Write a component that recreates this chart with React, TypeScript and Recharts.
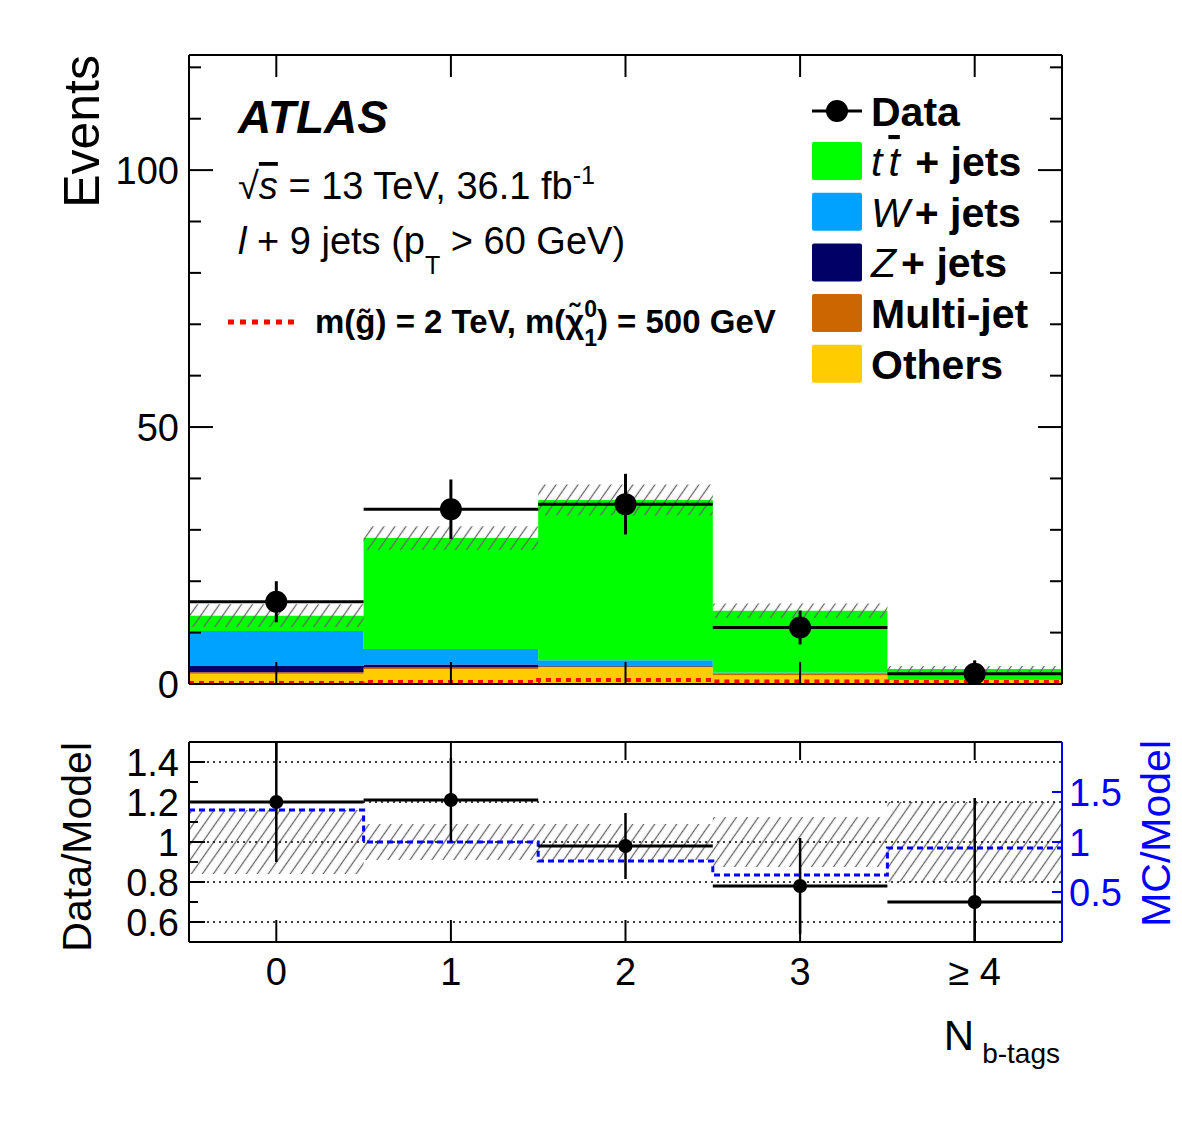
import React from 'react';
import { ComposedChart, Area, Line, Scatter, ErrorBar, XAxis, YAxis, ReferenceLine } from 'recharts';

const FONT = '"Liberation Sans", Arial, Helvetica, sans-serif';

// b-tag multiplicity bins
const bins = [0, 1, 2, 3, 4];
const binLabels = ['0', '1', '2', '3', '≥ 4'];

// background composition, events per bin
const others = [2.0, 2.9, 3.3, 1.7, 0.8];
const multiJet = [0.3, 0.3, 0.1, 0.3, 0.05];
const zJets = [1.2, 0.6, 0.2, 0.05, 0.02];
const wJets = [6.8, 3.0, 1.0, 0.2, 0.05];
const ttJets = [3.0, 21.6, 31.2, 12.0, 2.0];
const modelUnc = [2.2, 2.3, 3.0, 1.4, 0.6];

// signal benchmark m(gluino) = 2 TeV, m(neutralino) = 500 GeV
const signal = [0.2, 0.4, 0.8, 0.5, 0.4];

// observed events
const dataCounts = [16, 34, 35, 11, 2];
const dataErrLow = [4.0, 5.8, 5.9, 3.3, 1.4];
const dataErrHigh = [4.0, 5.8, 5.9, 3.3, 2.6];

// ratio panel (last bin's lower error runs out of the frame)
const dataRatio = [1.2, 1.21, 0.98, 0.78, 0.7];
const ratioErrLow = [0.3, 0.21, 0.165, 0.24, 0.2];
const ratioErrHigh = [0.3, 0.21, 0.165, 0.24, 0.52];
const relModelUnc = [0.16, 0.09, 0.09, 0.125, 0.2];
const mcOverModel = [1.32, 1.0, 0.81, 0.67, 0.94];

const eventTicks = [0, 10, 20, 30, 40, 50, 60, 70, 80, 90, 100, 110, 120];
const ratioTicks = [0.5, 0.6, 0.7, 0.8, 0.9, 1, 1.1, 1.2, 1.3, 1.4, 1.5];
const ratioGrid = [0.6, 0.8, 1, 1.2, 1.4];
const mcTicks = [0.5, 1, 1.5];

const COLORS = {
  tt: '#00ff00',
  w: '#00a2ff',
  z: '#000066',
  multi: '#cc6600',
  others: '#ffcc00',
};

// step histograms need a point on every bin edge; the last edge repeats the last bin
const edgeIndex = [0, 1, 2, 3, 4, 5];
const stackRows = edgeIndex.map((i) => {
  const b = Math.min(i, bins.length - 1);
  const total = others[b] + multiJet[b] + zJets[b] + wJets[b] + ttJets[b];
  return {
    x: i - 0.5,
    others: others[b],
    multi: multiJet[b],
    z: zJets[b],
    w: wJets[b],
    tt: ttJets[b],
    band: [total - modelUnc[b], total + modelUnc[b]],
    signal: signal[b],
  };
});

const ratioRows = edgeIndex.map((i) => {
  const b = Math.min(i, bins.length - 1);
  return {
    x: i - 0.5,
    band: [1 - relModelUnc[b], 1 + relModelUnc[b]],
    mc: mcOverModel[b],
  };
});

const dataPoints = bins.map((x, i) => ({
  x,
  y: dataCounts[i],
  ey: [dataErrLow[i], dataErrHigh[i]],
  ex: 0.5,
}));

const ratioPoints = bins.map((x, i) => ({
  x,
  y: dataRatio[i],
  ey: [ratioErrLow[i], ratioErrHigh[i]],
  ex: 0.5,
}));

const axisLine = { stroke: '#000', strokeWidth: 2 };

const yTick =
  (side: 'left' | 'right', isMajor: (v: number) => boolean, majorLen: number, minorLen: number,
    format: ((v: number) => string) | null, color = '#000') =>
  (props: any) => {
    const { x, y, payload } = props;
    const v = payload.value;
    const major = isMajor(v);
    const dir = side === 'left' ? 1 : -1;
    return (
      <g>
        <line x1={x} y1={y} x2={x + dir * (major ? majorLen : minorLen)} y2={y} stroke={color} strokeWidth={2} />
        {major && format && (
          <text
            x={side === 'left' ? x - 10 : x + 7}
            y={y}
            dy="0.36em"
            textAnchor={side === 'left' ? 'end' : 'start'}
            fontSize={38}
            fontFamily={FONT}
            fill={color}
          >
            {format(v)}
          </text>
        )}
      </g>
    );
  };

const xTick = (dir: 1 | -1, len: number, withLabel: boolean) => (props: any) => {
  const { x, y, payload } = props;
  return (
    <g>
      <line x1={x} y1={y} x2={x} y2={y + dir * len} stroke="#000" strokeWidth={2} />
      {withLabel && (
        <text x={x} y={y + 43} textAnchor="middle" fontSize={38} fontFamily={FONT} fill="#000">
          {binLabels[bins.indexOf(payload.value)]}
        </text>
      )}
    </g>
  );
};

const isEventMajor = (v: number) => v % 50 === 0;
const isRatioMajor = (v: number) => Math.round(v * 10) % 2 === 0;
const fmtRatio = (v: number) => (v === 1 ? '1' : v.toFixed(1));

const bigDot = (props: any) => <circle cx={props.cx} cy={props.cy} r={11} fill="#000" />;
const smallDot = (props: any) => <circle cx={props.cx} cy={props.cy} r={7} fill="#000" />;

const Hatch = ({ id }: { id: string }) => (
  <pattern id={id} width={9} height={9} patternUnits="userSpaceOnUse" patternTransform="rotate(35)">
    <line x1={4.5} y1={0} x2={4.5} y2={9} stroke="#666" strokeWidth={1.3} />
  </pattern>
);

function MainPanel() {
  return (
    <ComposedChart width={1182} height={720} data={stackRows} margin={{ top: 0, right: 0, bottom: 0, left: 0 }}>
      <defs>
        <Hatch id="hatchMain" />
      </defs>

      <Area dataKey="others" stackId="bg" type="stepAfter" fill={COLORS.others} fillOpacity={1} stroke="none" isAnimationActive={false} />
      <Area dataKey="multi" stackId="bg" type="stepAfter" fill={COLORS.multi} fillOpacity={1} stroke="none" isAnimationActive={false} />
      <Area dataKey="z" stackId="bg" type="stepAfter" fill={COLORS.z} fillOpacity={1} stroke="none" isAnimationActive={false} />
      <Area dataKey="w" stackId="bg" type="stepAfter" fill={COLORS.w} fillOpacity={1} stroke="none" isAnimationActive={false} />
      <Area dataKey="tt" stackId="bg" type="stepAfter" fill={COLORS.tt} fillOpacity={1} stroke="none" isAnimationActive={false} />
      <Area dataKey="band" type="stepAfter" fill="url(#hatchMain)" fillOpacity={1} stroke="none" isAnimationActive={false} />
      <Line dataKey="signal" type="stepAfter" stroke="#ff0000" strokeWidth={4} strokeDasharray="5 5" dot={false} isAnimationActive={false} />
      <Scatter data={dataPoints} dataKey="y" shape={bigDot} isAnimationActive={false}>
        <ErrorBar dataKey="ey" direction="y" width={0} stroke="#000" strokeWidth={3} />
        <ErrorBar dataKey="ex" direction="x" width={0} stroke="#000" strokeWidth={3} />
      </Scatter>

      <XAxis xAxisId={0} dataKey="x" type="number" domain={[-0.5, 4.5]} ticks={bins} allowDataOverflow
        height={36} interval={0} tickSize={0} tickMargin={0} tickLine={false} axisLine={axisLine}
        tick={xTick(-1, 22, false)} />
      <XAxis xAxisId="top" orientation="top" dataKey="x" type="number" domain={[-0.5, 4.5]} ticks={bins}
        allowDataOverflow height={55} interval={0} tickSize={0} tickMargin={0} tickLine={false}
        axisLine={axisLine} tick={xTick(1, 22, false)} />
      <YAxis yAxisId={0} type="number" domain={[0, 122.4]} ticks={eventTicks} allowDataOverflow width={189}
        interval={0} tickSize={0} tickMargin={0} tickLine={false} axisLine={axisLine}
        tick={yTick('left', isEventMajor, 24, 12, (v) => String(v))} />
      <YAxis yAxisId="right" orientation="right" type="number" domain={[0, 122.4]} ticks={eventTicks}
        allowDataOverflow width={120} interval={0} tickSize={0} tickMargin={0} tickLine={false}
        axisLine={axisLine} tick={yTick('right', isEventMajor, 24, 12, null)} />
    </ComposedChart>
  );
}

function RatioPanel() {
  return (
    <ComposedChart width={1182} height={423} data={ratioRows} margin={{ top: 0, right: 0, bottom: 0, left: 0 }}>
      <defs>
        <Hatch id="hatchRatio" />
      </defs>

      {ratioGrid.map((v) => (
        <ReferenceLine key={v} y={v} stroke="#000" strokeWidth={1.5} strokeDasharray="2 4" />
      ))}
      <Area dataKey="band" type="stepAfter" fill="url(#hatchRatio)" fillOpacity={1} stroke="none" isAnimationActive={false} />
      <Line yAxisId="mc" dataKey="mc" type="stepAfter" stroke="#0000ff" strokeWidth={3} strokeDasharray="6 4" dot={false} isAnimationActive={false} />
      <Scatter data={ratioPoints} dataKey="y" shape={smallDot} isAnimationActive={false}>
        <ErrorBar dataKey="ey" direction="y" width={0} stroke="#000" strokeWidth={2.5} />
        <ErrorBar dataKey="ex" direction="x" width={0} stroke="#000" strokeWidth={3} />
      </Scatter>

      <XAxis xAxisId={0} dataKey="x" type="number" domain={[-0.5, 4.5]} ticks={bins} allowDataOverflow
        height={181} interval={0} tickSize={0} tickMargin={0} tickLine={false} axisLine={axisLine}
        tick={xTick(-1, 22, true)} />
      <XAxis xAxisId="top" orientation="top" dataKey="x" type="number" domain={[-0.5, 4.5]} ticks={bins}
        allowDataOverflow height={42} interval={0} tickSize={0} tickMargin={0} tickLine={false}
        axisLine={axisLine} tick={xTick(1, 18, false)} />
      <YAxis yAxisId={0} type="number" domain={[0.5, 1.5]} ticks={ratioTicks} allowDataOverflow width={189}
        interval={0} tickSize={0} tickMargin={0} tickLine={false} axisLine={axisLine}
        tick={yTick('left', isRatioMajor, 16, 9, fmtRatio)} />
      <YAxis yAxisId="mc" orientation="right" type="number" domain={[0, 2]} ticks={mcTicks} allowDataOverflow
        width={120} interval={0} tickSize={0} tickMargin={0} tickLine={false}
        axisLine={{ stroke: '#0000ff', strokeWidth: 2 }}
        tick={yTick('right', () => true, 10, 10, (v) => String(v), '#0000ff')} />
    </ComposedChart>
  );
}

const legendRows = [
  { key: 'tt', color: COLORS.tt },
  { key: 'w', color: COLORS.w },
  { key: 'z', color: COLORS.z },
  { key: 'multi', color: COLORS.multi },
  { key: 'others', color: COLORS.others },
];

const legendLabel = (key: string) => {
  switch (key) {
    case 'tt':
      return (
        <>
          <tspan fontStyle="italic" fontWeight="normal">t</tspan>
          <tspan fontStyle="italic" fontWeight="normal" dx={6} style={{ textDecoration: 'overline' }}>t</tspan>
          <tspan dx={4}> + jets</tspan>
        </>
      );
    case 'w':
      return (
        <>
          <tspan fontStyle="italic" fontWeight="normal">W</tspan>
          <tspan dx={5}>+ jets</tspan>
        </>
      );
    case 'z':
      return (
        <>
          <tspan fontStyle="italic" fontWeight="normal">Z</tspan>
          <tspan dx={5}>+ jets</tspan>
        </>
      );
    case 'multi':
      return 'Multi-jet';
    default:
      return 'Others';
  }
};

function Annotations() {
  return (
    <svg width={1182} height={1123} fontFamily={FONT}
      style={{ position: 'absolute', left: 0, top: 0, pointerEvents: 'none' }}>
      {/* axis titles */}
      <text transform="translate(99,55) rotate(-90)" textAnchor="end" fontSize={50}>Events</text>
      <text transform="translate(91,742) rotate(-90)" textAnchor="end" fontSize={41}>Data/Model</text>
      <text transform="translate(1170,740) rotate(-90)" textAnchor="end" fontSize={41} fill="#0000ff">MC/Model</text>
      <text x={1060} y={1050} textAnchor="end" fontSize={42}>
        N<tspan fontSize={28} dx={8} dy={13}>b-tags</tspan>
      </text>

      {/* experiment label */}
      <text x={238} y={133} fontSize={46} fontWeight="bold" fontStyle="italic">ATLAS</text>
      <text x={238} y={199} fontSize={38}>
        √<tspan fontStyle="italic" style={{ textDecoration: 'overline' }}>s</tspan> = 13 TeV, 36.1 fb
        <tspan fontSize={25} dy={-15}>-1</tspan>
      </text>
      <text x={238} y={254} fontSize={38}>
        <tspan fontStyle="italic">l</tspan> + 9 jets (p<tspan fontSize={25} dy={20}>T</tspan>
        <tspan dy={-20}> &gt; 60 GeV)</tspan>
      </text>

      {/* signal legend */}
      <line x1={228} y1={322} x2={298} y2={322} stroke="#ff0000" strokeWidth={5} strokeDasharray="6 6" />
      <text x={315} y={333} fontSize={33} fontWeight="bold">
        m(g&#771;) = 2 TeV, m(χ&#771;<tspan fontSize={23} dy={-16}>0</tspan>
        <tspan fontSize={23} dx={-13} dy={29}>1</tspan>
        <tspan dy={-13}>) = 500 GeV</tspan>
      </text>

      {/* background legend */}
      <line x1={812} y1={111} x2={862} y2={111} stroke="#000" strokeWidth={3} />
      <circle cx={837} cy={111} r={11} fill="#000" />
      <text x={871} y={126} fontSize={41} fontWeight="bold">Data</text>
      {legendRows.map((row, i) => {
        const cy = 161 + i * 50.7;
        return (
          <g key={row.key}>
            <rect x={812} y={cy - 19} width={50} height={38} rx={2} fill={row.color} />
            <text x={871} y={cy + 15} fontSize={41} fontWeight="bold">{legendLabel(row.key)}</text>
          </g>
        );
      })}
    </svg>
  );
}

export default function App() {
  return (
    <div style={{ position: 'absolute', left: 0, top: 0, width: 1182, height: 1123, background: '#fff', fontFamily: FONT }}>
      <div style={{ position: 'absolute', left: 0, top: 0 }}>
        <MainPanel />
      </div>
      <div style={{ position: 'absolute', left: 0, top: 700 }}>
        <RatioPanel />
      </div>
      <Annotations />
    </div>
  );
}
